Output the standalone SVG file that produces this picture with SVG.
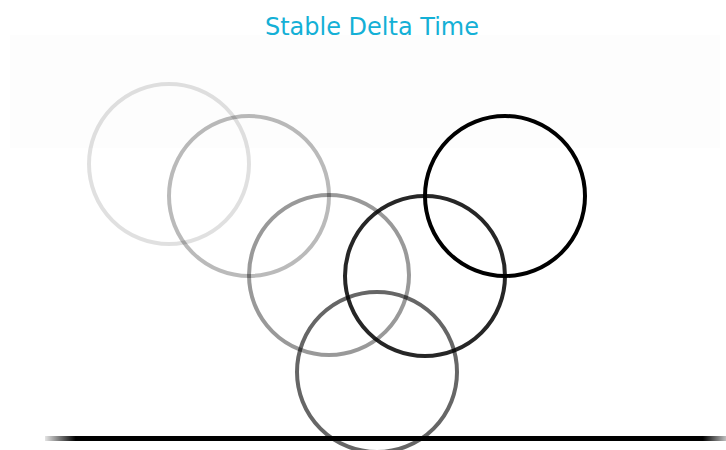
<svg xmlns="http://www.w3.org/2000/svg" width="726" height="450" viewBox="0 0 726 450">
  <style>
    .ball { fill: none; stroke: #000; stroke-width: 4; }
    .title { font-family: "DejaVu Sans", sans-serif; font-size: 24px; fill: #14b0d6; }
  </style>
  <defs>
    <linearGradient id="ground" gradientUnits="userSpaceOnUse" x1="45" y1="0" x2="726" y2="0">
      <stop offset="0" stop-color="#000" stop-opacity="0.1"/>
      <stop offset="0.045" stop-color="#000" stop-opacity="1"/>
      <stop offset="0.966" stop-color="#000" stop-opacity="1"/>
      <stop offset="1" stop-color="#000" stop-opacity="0.25"/>
    </linearGradient>
  </defs>
  <rect x="0" y="0" width="726" height="450" fill="#fff"/>
  <rect x="10" y="35" width="710" height="113" fill="#fdfdfd"/>
  <text class="title" x="372" y="35" text-anchor="middle">Stable Delta Time</text>
  <g id="balls">
    <circle id="ball1" class="ball" cx="169" cy="164" r="80" stroke-opacity="0.12"/>
    <circle id="ball2" class="ball" cx="249" cy="196" r="80" stroke-opacity="0.27"/>
    <circle id="ball3" class="ball" cx="329" cy="275" r="80" stroke-opacity="0.4"/>
    <circle id="ball4" class="ball" cx="377" cy="372" r="80" stroke-opacity="0.6"/>
    <circle id="ball5" class="ball" cx="425" cy="276" r="80" stroke-opacity="0.85"/>
    <circle id="ball6" class="ball" cx="505" cy="196" r="80" stroke-opacity="1"/>
  </g>
  <rect id="ground-line" x="45" y="436" width="681" height="5" fill="url(#ground)"/>
</svg>
